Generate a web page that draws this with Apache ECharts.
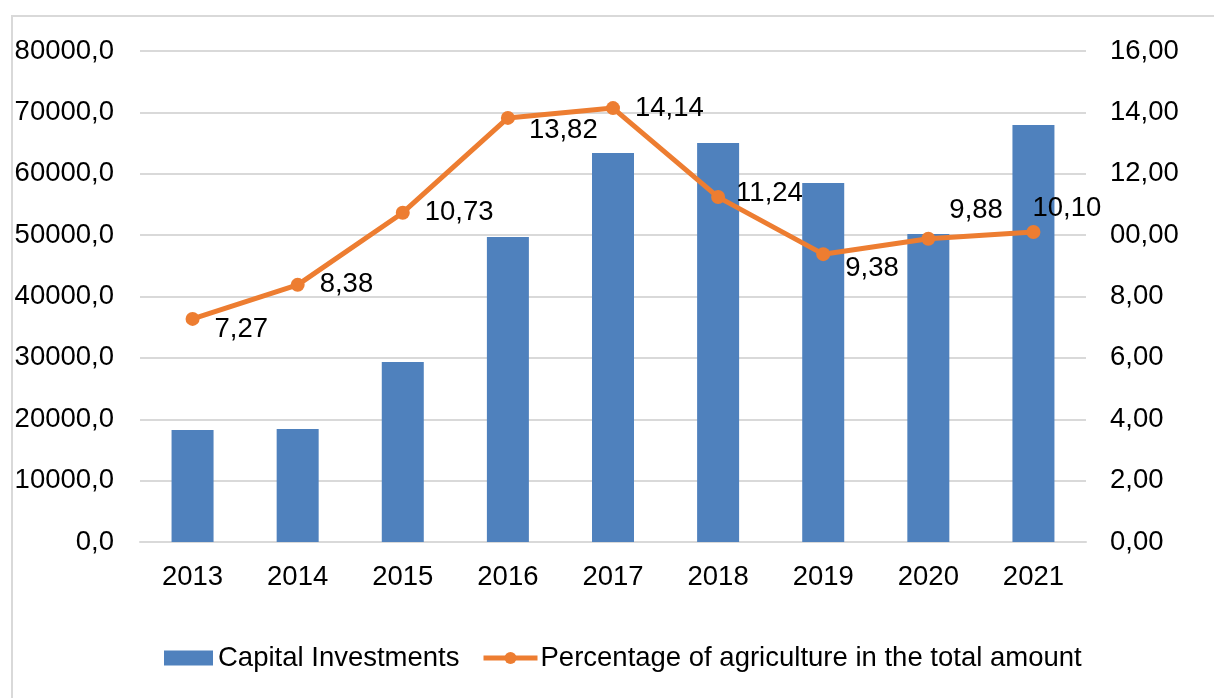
<!DOCTYPE html>
<html>
<head>
<meta charset="utf-8">
<script src="https://cdn.jsdelivr.net/npm/echarts@6/dist/echarts.min.js"></script>
<style>
  html, body { margin: 0; padding: 0; background: #fff; }
  #frame { position: absolute; left: 11px; top: 15px; width: 1210px; height: 690px; border-left: 2px solid #D9D9D9; border-top: 2px solid #D9D9D9; }
  #chart { position: absolute; left: 0; top: 0; width: 1214px; height: 698px; }
</style>
</head>
<body>
<div id="frame"></div>
<div id="chart"></div>
<script>
// ---- data ----
const years = ['2013', '2014', '2015', '2016', '2017', '2018', '2019', '2020', '2021'];
const capitalInvestments = [18250, 18400, 29330, 49700, 63380, 65010, 58490, 50180, 67940];
const agriculturePercent = [7.27, 8.38, 10.73, 13.82, 14.14, 11.24, 9.38, 9.88, 10.10];
const leftTicks = ['0,0', '10000,0', '20000,0', '30000,0', '40000,0', '50000,0', '60000,0', '70000,0', '80000,0'];
const rightTicks = ['0,00', '2,00', '4,00', '6,00', '8,00', '00,00', '12,00', '14,00', '16,00'];
const seriesNames = ['Capital Investments', 'Percentage of agriculture in the total amount'];

// ---- layout / style ----
const FONT = 'Liberation Sans, Arial, sans-serif';
const FS = 27.5;
const labelOffsets = [[15, 11], [15, 0], [15, 0], [14, 13], [15, 0], [11, -4], [15, 14], [14, -28], [-8, -24]];

const chart = echarts.init(document.getElementById('chart'));
const option = {
  animation: false,
  grid: { left: 140, right: 128, top: 51, bottom: 156, containLabel: false },
  legend: [
    {
      data: [seriesNames[0]], left: 164, top: 644, padding: 0, itemWidth: 49, itemHeight: 15, icon: 'rect',
      textStyle: { fontFamily: FONT, fontSize: FS, color: '#000' }
    },
    {
      data: [seriesNames[1]], left: 481, top: 644, padding: 0, itemWidth: 54, itemHeight: 15,
      lineStyle: { width: 5 },
      textStyle: { fontFamily: FONT, fontSize: FS, color: '#000', padding: [0, 0, 0, -2] }
    }
  ],
  xAxis: {
    type: 'category', data: years,
    axisLine: { lineStyle: { color: '#D9D9D9', width: 2 } },
    axisTick: { show: false },
    axisLabel: { fontFamily: FONT, fontSize: FS, color: '#000', margin: 21 }
  },
  yAxis: [
    {
      type: 'value', min: 0, max: 80000, interval: 10000,
      axisLine: { show: false }, axisTick: { show: false },
      splitLine: { lineStyle: { color: '#D9D9D9', width: 2 } },
      axisLabel: {
        fontFamily: FONT, fontSize: FS, color: '#000', margin: 26,
        formatter: v => leftTicks[Math.round(v / 10000)]
      }
    },
    {
      type: 'value', min: 0, max: 16, interval: 2, position: 'right',
      axisLine: { show: false }, axisTick: { show: false }, splitLine: { show: false },
      axisLabel: {
        fontFamily: FONT, fontSize: FS, color: '#000', margin: 24, align: 'left',
        formatter: v => rightTicks[Math.round(v / 2)]
      }
    }
  ],
  series: [
    {
      name: seriesNames[0], type: 'bar', data: capitalInvestments, barWidth: 42,
      itemStyle: { color: '#4F81BD' }
    },
    {
      name: seriesNames[1], type: 'line', yAxisIndex: 1,
      data: agriculturePercent.map((v, i) => ({
        value: v,
        label: { offset: labelOffsets[i] }
      })),
      symbol: 'circle', symbolSize: 14,
      lineStyle: { color: '#ED7D31', width: 5 },
      itemStyle: { color: '#ED7D31' },
      label: {
        show: true, position: 'right', distance: 0,
        fontFamily: FONT, fontSize: FS, color: '#000',
        formatter: p => p.value.toFixed(2).replace('.', ',')
      }
    }
  ]
};
chart.setOption(option);
</script>
</body>
</html>
